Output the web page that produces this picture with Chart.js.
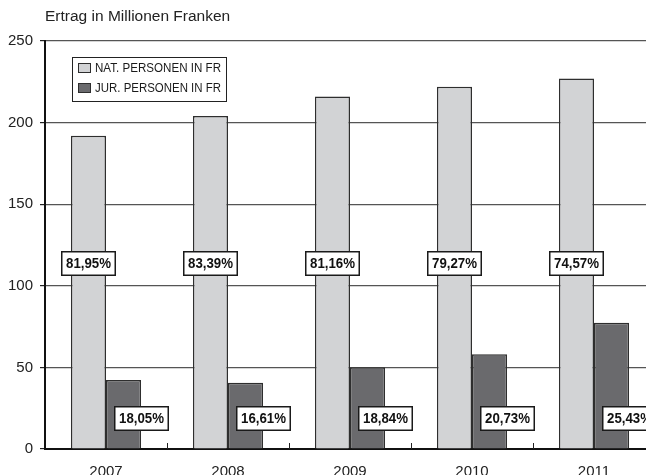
<!DOCTYPE html>
<html>
<head>
<meta charset="utf-8">
<script src="https://cdn.jsdelivr.net/npm/chart.js@4/dist/chart.umd.min.js"></script>
<style>
  html, body { margin: 0; padding: 0; background: #fff; overflow: hidden; }
  #wrap { width: 646px; height: 475px; overflow: hidden; }
</style>
</head>
<body>
<div id="wrap"><canvas id="c" width="660" height="475"></canvas></div>
<script>
// Ertrag (Mio. Fr.) natürliche und juristische Personen
const years = ['2007', '2008', '2009', '2010', '2011'];
const natValues = [192, 204, 216, 222, 227];
const jurValues = [42.3, 40.6, 50.1, 58.0, 77.4];
const natShares = ['81,95%', '83,39%', '81,16%', '79,27%', '74,57%'];
const jurShares = ['18,05%', '16,61%', '18,84%', '20,73%', '25,43%'];
const yTicks = [0, 50, 100, 150, 200, 250];
const seriesNames = ['NAT. PERSONEN IN FR', 'JUR. PERSONEN IN FR'];

const FONT = '"Liberation Sans", Arial, Helvetica, sans-serif';
const natColor = '#d2d3d5';
const jurColor = '#6a6a6d';
const edgeColor = '#2e2e2e';

// Header text, category separators, share boxes and legend
const decorations = {
  id: 'decorations',
  afterDraw(chart) {
    const ctx = chart.ctx;
    const area = chart.chartArea;
    const x = chart.scales.x;
    const y = chart.scales.y;

    ctx.save();
    // header
    ctx.fillStyle = '#222';
    ctx.font = '15.5px ' + FONT;
    ctx.textBaseline = 'middle';
    ctx.textAlign = 'left';
    ctx.fillText('Ertrag in Millionen Franken', area.left, 17);

    // short upward separators between categories
    ctx.strokeStyle = '#222';
    ctx.lineWidth = 1;
    for (let i = 0; i < years.length - 1; i++) {
      const px = Math.round((x.getPixelForValue(i) + x.getPixelForValue(i + 1)) / 2) + 0.5;
      ctx.beginPath();
      ctx.moveTo(px, area.bottom);
      ctx.lineTo(px, area.bottom - 6);
      ctx.stroke();
    }

    // share boxes
    const box = (text, cx, cy) => {
      ctx.font = 'bold 14px ' + FONT;
      const tw = Math.min(ctx.measureText(text).width, 45);
      const w = Math.round(tw) + 10;
      const h = 25;
      const lx = Math.round(cx - w / 2);
      const ty = Math.round(cy - h / 2);
      ctx.fillStyle = '#fff';
      ctx.fillRect(lx, ty, w, h);
      ctx.strokeStyle = '#1a1a1a';
      ctx.lineWidth = 1.5;
      ctx.strokeRect(lx + 0.75, ty + 0.75, w - 1.5, h - 1.5);
      ctx.fillStyle = '#111';
      ctx.textAlign = 'center';
      ctx.textBaseline = 'middle';
      ctx.fillText(text, lx + w / 2, ty + h / 2 + 1, 45);
    };
    const natMeta = chart.getDatasetMeta(0);
    const jurMeta = chart.getDatasetMeta(1);
    natMeta.data.forEach((bar, i) => box(natShares[i], bar.x, y.getPixelForValue(113.5)));
    jurMeta.data.forEach((bar, i) => box(jurShares[i], bar.x + bar.width / 2, y.getPixelForValue(18.4)));

    // legend
    const lgX = 72, lgY = 57, lgW = 154, lgH = 44;
    ctx.fillStyle = '#fff';
    ctx.fillRect(lgX, lgY, lgW, lgH);
    ctx.strokeStyle = '#222';
    ctx.lineWidth = 1;
    ctx.strokeRect(lgX + 0.5, lgY + 0.5, lgW, lgH);
    chart.data.datasets.forEach((ds, i) => {
      const rowY = lgY + 11 + i * 20;
      ctx.fillStyle = ds.backgroundColor;
      ctx.fillRect(78, rowY - 5, 13, 10);
      ctx.strokeStyle = edgeColor;
      ctx.lineWidth = 1;
      ctx.strokeRect(78.5, rowY - 4.5, 12, 9);
      ctx.fillStyle = '#1a1a1a';
      ctx.font = '12.5px ' + FONT;
      ctx.textAlign = 'left';
      ctx.textBaseline = 'middle';
      ctx.fillText(ds.label, 95, rowY + 1, 126);
    });
    ctx.restore();
  }
};

new Chart(document.getElementById('c'), {
  type: 'bar',
  data: {
    labels: years,
    datasets: [
      {
        label: seriesNames[0],
        data: natValues,
        backgroundColor: natColor,
        borderColor: edgeColor,
        borderWidth: 1.5,
        barPercentage: 1,
        categoryPercentage: 0.575
      },
      {
        label: seriesNames[1],
        data: jurValues,
        backgroundColor: jurColor,
        borderColor: edgeColor,
        borderWidth: 1.5,
        barPercentage: 1,
        categoryPercentage: 0.575
      }
    ]
  },
  options: {
    responsive: false,
    animation: false,
    layout: { padding: { top: 41, right: 5, left: 0, bottom: 0 } },
    plugins: {
      legend: { display: false },
      tooltip: { enabled: false }
    },
    scales: {
      x: {
        offset: true,
        grid: { display: false, drawTicks: false },
        border: { display: true, color: '#111', width: 2 },
        ticks: {
          color: '#222',
          font: { family: FONT, size: 15 },
          padding: 14,
          maxRotation: 0
        },
        afterFit(scale) { scale.height = 26; }
      },
      y: {
        min: 0,
        max: 250,
        afterBuildTicks(scale) { scale.ticks = yTicks.map(v => ({ value: v })); },
        grid: {
          color: '#555',
          lineWidth: 1.2,
          drawTicks: true,
          tickLength: 5,
          tickColor: '#222'
        },
        border: { display: true, color: '#111', width: 2 },
        ticks: {
          color: '#222',
          font: { family: FONT, size: 15 },
          padding: 7
        },
        afterFit(scale) { scale.width = 45; }
      }
    }
  },
  plugins: [decorations]
});
</script>
</body>
</html>
